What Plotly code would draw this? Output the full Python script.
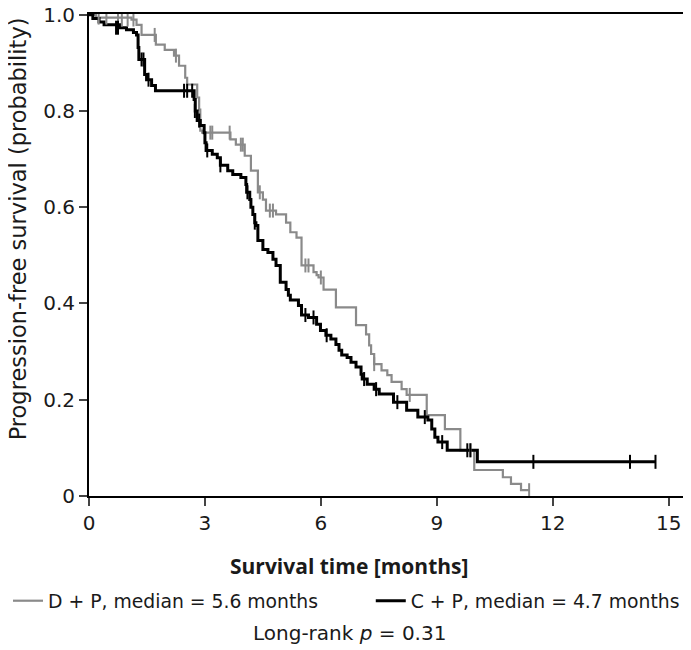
import plotly.graph_objects as go

# D + P (gray) step curve: event times (months) and survival after each drop
dp_time = [0, 0.18, 1.10, 1.23, 1.36, 1.73, 1.96, 2.20, 2.33, 2.49, 2.54, 2.80, 2.85, 2.88, 2.93,
           3.66, 3.80, 4.03, 4.19, 4.37, 4.50, 4.58, 4.84, 5.10, 5.21, 5.37, 5.50, 5.81, 5.89, 5.94,
           6.07, 6.39, 6.91, 7.17, 7.25, 7.30, 7.38, 7.57, 7.72, 7.83, 8.09, 8.22, 8.74, 9.21, 9.61,
           9.97, 10.71, 10.92, 11.18, 11.39]
dp_surv = [1.0, 0.994, 0.990, 0.979, 0.958, 0.938, 0.927, 0.915, 0.894, 0.869, 0.855, 0.828, 0.803, 0.759, 0.755,
           0.741, 0.730, 0.707, 0.676, 0.631, 0.616, 0.593, 0.585, 0.568, 0.548, 0.537, 0.479, 0.465, 0.459, 0.454,
           0.429, 0.392, 0.355, 0.336, 0.313, 0.295, 0.274, 0.261, 0.251, 0.237, 0.222, 0.210, 0.168, 0.139, 0.095,
           0.054, 0.039, 0.025, 0.012, 0.012]
dp_cens_time = [0.25, 0.45, 0.75, 0.85, 1.00, 1.15, 1.70, 2.25, 3.14, 3.19, 3.64, 3.93, 3.98, 4.42, 4.68, 4.76,
                5.60, 5.68, 6.00, 7.38, 8.30, 9.87, 11.39]
dp_cens_surv = [0.994, 0.994, 0.990, 0.990, 0.990, 0.990, 0.958, 0.915, 0.755, 0.755, 0.755, 0.730, 0.730, 0.631,
                0.593, 0.593, 0.479, 0.479, 0.454, 0.274, 0.210, 0.095, 0.012]

# C + P (black) step curve
cp_time = [0, 0.10, 0.26, 0.39, 0.79, 0.97, 1.15, 1.23, 1.27, 1.29, 1.44, 1.49, 1.62, 1.72, 2.72, 2.75, 2.80,
           2.88, 2.98, 3.00, 3.03, 3.19, 3.32, 3.40, 3.59, 3.72, 3.93, 4.06, 4.08, 4.16, 4.19, 4.24, 4.29,
           4.32, 4.37, 4.50, 4.63, 4.76, 4.84, 4.95, 5.10, 5.16, 5.21, 5.42, 5.50, 5.68, 5.89, 5.99, 6.13,
           6.26, 6.39, 6.47, 6.54, 6.68, 6.78, 6.91, 7.04, 7.07, 7.20, 7.38, 7.51, 7.88, 8.22, 8.51, 8.77,
           8.87, 8.95, 9.03, 9.27, 10.05, 14.66]
cp_surv = [1.0, 0.992, 0.985, 0.979, 0.973, 0.969, 0.963, 0.958, 0.932, 0.907, 0.876, 0.865, 0.853, 0.842, 0.824, 0.800, 0.780,
           0.770, 0.755, 0.734, 0.718, 0.710, 0.703, 0.687, 0.676, 0.668, 0.662, 0.647, 0.631, 0.616, 0.600, 0.585, 0.568,
           0.562, 0.531, 0.512, 0.506, 0.492, 0.479, 0.444, 0.429, 0.417, 0.407, 0.396, 0.376, 0.371, 0.357, 0.344, 0.334,
           0.326, 0.315, 0.303, 0.293, 0.288, 0.278, 0.268, 0.253, 0.243, 0.232, 0.222, 0.212, 0.195, 0.178, 0.164, 0.158,
           0.139, 0.122, 0.112, 0.095, 0.071, 0.071]
cp_cens_time = [0.70, 0.75, 1.36, 1.41, 1.54, 2.46, 2.54, 2.67, 2.74, 2.85, 3.06, 3.40, 4.10, 4.29, 5.60, 5.81,
                6.15, 7.12, 7.43, 7.98, 8.69, 9.14, 9.79, 9.87, 11.50, 14.00, 14.66]
cp_cens_surv = [0.973, 0.973, 0.907, 0.907, 0.865, 0.842, 0.842, 0.842, 0.800, 0.780, 0.718, 0.687, 0.631, 0.568,
                0.376, 0.371, 0.334, 0.243, 0.222, 0.195, 0.164, 0.112, 0.095, 0.095, 0.071, 0.071, 0.071]

x_ticks = [0, 3, 6, 9, 12, 15]
y_ticks = [0, 0.2, 0.4, 0.6, 0.8, 1.0]
y_ticktext = ["0", "0.2", "0.4", "0.6", "0.8", "1.0"]

GRAY = "#8a8a8a"
BLACK = "#000000"
FONT = "DejaVu Sans"
TXT = "#1a1a1a"

fig = go.Figure()
fig.add_trace(go.Scatter(x=dp_time, y=dp_surv, mode="lines", line=dict(color=GRAY, width=2.2, shape="hv"),
                         name="D + P, median = 5.6 months", legend="legend"))
fig.add_trace(go.Scatter(x=cp_time, y=cp_surv, mode="lines", line=dict(color=BLACK, width=3, shape="hv"),
                         name="C + P, median = 4.7 months", legend="legend2"))
fig.add_trace(go.Scatter(x=dp_cens_time, y=dp_cens_surv, mode="markers", showlegend=False,
                         marker=dict(symbol="line-ns", size=10, line=dict(color=GRAY, width=2))))
fig.add_trace(go.Scatter(x=cp_cens_time, y=cp_cens_surv, mode="markers", showlegend=False,
                         marker=dict(symbol="line-ns", size=10, line=dict(color=BLACK, width=2))))

legend_common = dict(orientation="h", xref="container", yref="container", xanchor="left",
                     y=0.0877, yanchor="middle", font=dict(size=18.8, family=FONT, color=TXT),
                     bgcolor="rgba(0,0,0,0)")

fig.update_layout(
    width=691, height=650,
    margin=dict(l=81, r=1, t=6, b=162, autoexpand=False),
    paper_bgcolor="white", plot_bgcolor="white",
    font=dict(family=FONT, size=20, color=TXT),
    legend=dict(x=-0.026, **legend_common),
    legend2=dict(x=0.525, **legend_common),
    xaxis=dict(range=[0, 15.76], tickvals=x_ticks, ticks="outside", ticklen=8, tickwidth=2, automargin=False,
               showline=True, linecolor="black", linewidth=2, mirror=True, showgrid=False, zeroline=False,
               tickfont=dict(size=20), ticklabeloverflow="allow"),
    yaxis=dict(range=[0, 1.0015], tickvals=y_ticks, ticktext=y_ticktext, ticks="outside", ticklen=8, tickwidth=2,
               automargin=False, ticklabeloverflow="allow",
               showline=True, linecolor="black", linewidth=2, mirror=True, showgrid=False, zeroline=False,
               tickfont=dict(size=20)),
    annotations=[
        dict(text="Progression-free survival (probability)", textangle=-90, xref="paper", yref="paper",
             x=-0.116, y=0.554, xanchor="center", yanchor="middle", showarrow=False,
             font=dict(size=22.5, family=FONT, color=TXT)),
        dict(text="<b>Survival time [months]</b>", xref="paper", yref="paper", x=0.427, y=-0.145,
             xanchor="center", yanchor="middle", showarrow=False,
             font=dict(size=21, family="Open Sans", color=TXT)),
        dict(text="Long-rank <i>p</i> = 0.31", xref="paper", yref="paper", x=0.427, y=-0.284,
             xanchor="center", yanchor="middle", showarrow=False, font=dict(size=20, family=FONT, color=TXT)),
    ],
)

fig.write_html("out.html")
